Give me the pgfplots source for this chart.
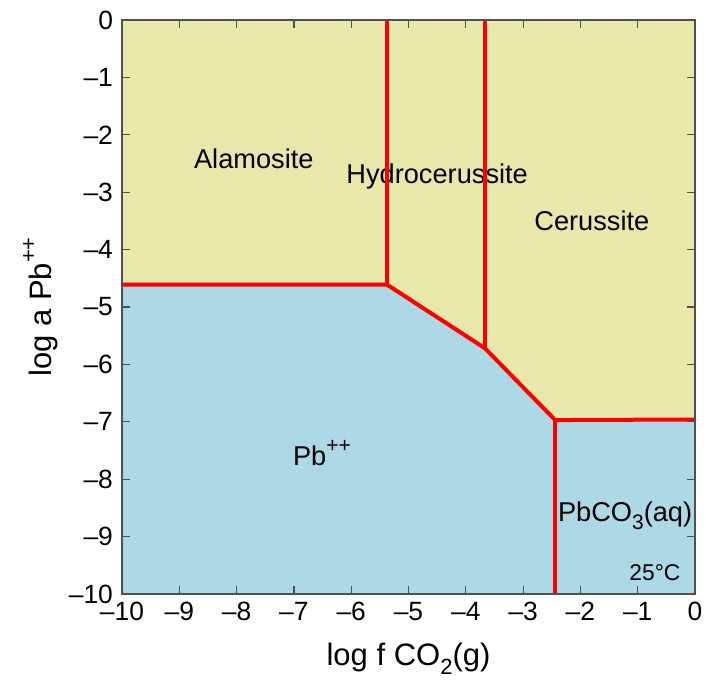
\documentclass[border=0pt]{standalone}
\usepackage{pgfplots}
\pgfplotsset{compat=1.18}
\usepackage{fontspec}
\setmainfont{Liberation Sans}
\definecolor{yel}{RGB}{232,232,170}
\definecolor{blu}{RGB}{173,216,230}
\definecolor{axgray}{RGB}{80,80,80}
\begin{document}
\begin{tikzpicture}
\path[use as bounding box] (-61pt,-44.5pt) rectangle (292pt,297pt);
\begin{axis}[
  at={(0,0)}, anchor=south west,
  scale only axis, width=286.5pt, height=287pt,
  xmin=-10, xmax=0, ymin=-10, ymax=0,
  axis background/.style={fill=yel},
  axis line style={axgray, line width=0.6pt},
  tick style={axgray, line width=0.6pt},
  tick align=inside, major tick length=4pt,
  xtick={-10,-9,...,0}, ytick={-10,-9,...,0},
  xticklabels={--10,--9,--8,--7,--6,--5,--4,--3,--2,--1,0},
  yticklabels={--10,--9,--8,--7,--6,--5,--4,--3,--2,--1,0},
  ticklabel style={font=\fontsize{13.2}{15}\selectfont},
  xticklabel style={yshift=-0.5pt},
  yticklabel style={xshift=-1pt},
  xlabel={log f CO\raisebox{-4.5pt}{\fontsize{11}{12}\selectfont 2}(g)},
  ylabel={log a Pb\raisebox{8pt}{\fontsize{11}{12}\selectfont ++}},
  label style={font=\fontsize{15.5}{18}\selectfont},
  xlabel style={at={(axis description cs:0.5,-0.112)}, anchor=center},
  ylabel style={at={(axis description cs:-0.142,0.5)}, anchor=center},
  axis on top,
  clip=true,
]
\addplot[draw=none, fill=blu] coordinates {(-10,-10) (-10,-4.61) (-5.375,-4.61) (-3.665,-5.72) (-2.44,-6.97) (0,-6.96) (0,-10)} -- cycle;
\node[font=\fontsize{13.6}{15}\selectfont] at (axis cs:-7.70,-2.41) {Alamosite};
\node[font=\fontsize{13.6}{15}\selectfont] at (axis cs:-4.50,-2.72) {Hydrocerussite};
\node[font=\fontsize{13.6}{15}\selectfont] at (axis cs:-1.80,-3.49) {Cerussite};
\node[font=\fontsize{13.6}{15}\selectfont] at (axis cs:-6.51,-7.55) {Pb\raisebox{6.5pt}{\fontsize{10.5}{12}\selectfont ++}};
\node[font=\fontsize{13.6}{15}\selectfont] at (axis cs:-1.22,-8.64) {PbCO\raisebox{-4pt}{\fontsize{10.5}{12}\selectfont 3}(aq)};
\node[font=\fontsize{11.4}{13}\selectfont] at (axis cs:-0.70,-9.63) {25°C};
\addplot[red, line width=2pt, line join=miter] coordinates {(-10,-4.61) (-5.375,-4.61) (-3.665,-5.72) (-2.44,-6.97) (0,-6.96)};
\addplot[red, line width=2pt] coordinates {(-5.375,-4.61) (-5.375,0)};
\addplot[red, line width=2pt] coordinates {(-3.665,-5.72) (-3.665,0)};
\addplot[red, line width=2pt] coordinates {(-2.44,-6.97) (-2.44,-10)};
\end{axis}
\end{tikzpicture}
\end{document}
